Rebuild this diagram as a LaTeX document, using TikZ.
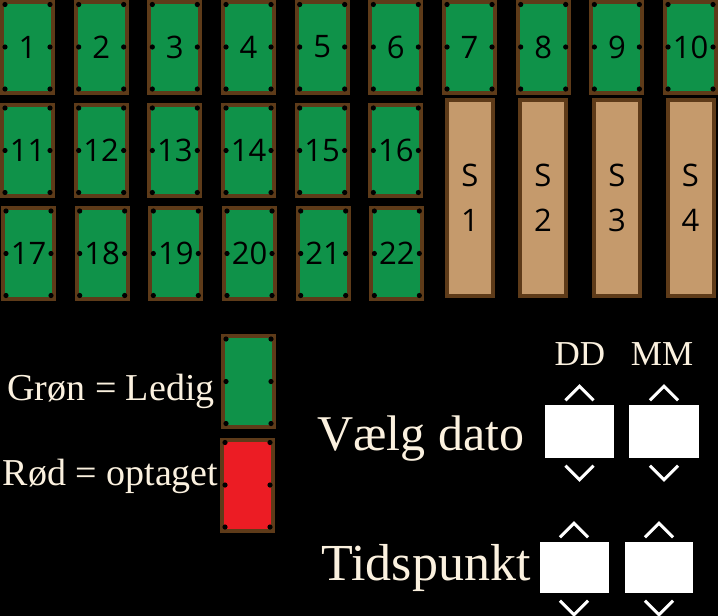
\documentclass[tikz,border=0pt]{standalone}
\usepackage{fontspec}
\setmainfont{Liberation Serif}
\newfontfamily\tablefont{Open Sans}
\usepackage{xcolor}
\usetikzlibrary{calc, positioning}
\definecolor{feltgreen}{HTML}{0F9249}
\definecolor{woodbrown}{HTML}{5E3B19}
\definecolor{sofatan}{HTML}{C59A6C}
\definecolor{busyred}{HTML}{EC1C24}
\definecolor{cream}{HTML}{FBF1DF}

% black pockets on the inside of a table
\newcommand{\pockets}[1]{%
  \foreach \a/\dx/\dy in {north west/5/5, west/5/0, south west/5/-5.5, north east/-5/5, east/-5/0, south east/-5/-5.5}
    \fill[black] ($(#1.\a)+(\dx,\dy)$) circle[radius=2.6pt];}

\begin{document}
\begin{tikzpicture}[x=1pt, y=-1pt, label/.style={text=cream, inner sep=0pt, anchor=base}, chevron/.style={draw=white, line width=3pt}]
    % Define styles for tables, sofas and input fields
    \tikzstyle{table} = [draw=woodbrown, line width=4pt, fill=feltgreen, minimum width=51pt, minimum height=91pt, inner sep=0pt, font=\tablefont\fontsize{31}{45}\selectfont]
    \tikzstyle{sofa} = [table, fill=sofatan, minimum width=46pt, minimum height=196pt, align=center]
    \tikzstyle{taken} = [table, fill=busyred]
    \tikzstyle{field} = [fill=white, minimum width=69pt, minimum height=53pt, inner sep=0pt]

    \useasboundingbox (0,0) rectangle (718,616);
    \fill[black] (0,0) rectangle (718,616);

    % Tables
    \foreach \i in {1,...,10} \node[table] (t\i) at ({27.5+73.67*(\i-1)}, 47) {\i};
    \foreach \i in {11,...,16} \node[table] (t\i) at ({27.5+73.67*(\i-11)}, 150.5) {\i};
    \foreach \i in {17,...,22} \node[table] (t\i) at ({28.5+73.67*(\i-17)}, 253.5) {\i};
    \foreach \i/\x in {1/470, 2/543, 3/617, 4/690.5} \node[sofa] (s\i) at (\x, 198) {S\\\i};

    % Legend
    \node[table] (free) at (248.5, 381.5) {};
    \node[taken] (busy) at (247.5, 485) {};
    \node[label, font=\fontsize{38}{40}\selectfont] (freetext) at (111, 400) {Grøn = Ledig};
    \node[label, font=\fontsize{38}{40}\selectfont] (busytext) at (110.5, 485) {Rød = optaget};

    \foreach \i in {1,...,22} {\pockets{t\i}}
    \pockets{free}
    \pockets{busy}

    % Date and time selection
    \node[label, font=\fontsize{50}{52}\selectfont] (datetext) at (421, 450) {Vælg dato};
    \node[label, font=\fontsize{52}{54}\selectfont] (timetext) at (426, 580) {Tidspunkt};
    \node[field] (dd) at (579.5, 431.5) {};
    \node[field, minimum width=70pt] (mm) at (664, 431.5) {};
    \node[field, minimum height=51pt] (hh) at (574, 567.5) {};
    \node[field, minimum height=51pt, minimum width=68pt] (min) at (659, 567.5) {};
    \node[label, font=\fontsize{35}{37}\selectfont] (ddtext) at (580, 365) {DD};
    \node[label, font=\fontsize{35}{37}\selectfont] (mmtext) at (662, 365) {MM};

    % Up and down arrows
    \foreach \f in {dd, mm, hh, min} {
        \draw[chevron] ($(\f.north)+(-14,-4.5)$) -- ++(14,-14) -- ++(14,14);
        \draw[chevron] ($(\f.south)+(-14,7.5)$) -- ++(14,14) -- ++(14,-14);
    }
\end{tikzpicture}
\end{document}
